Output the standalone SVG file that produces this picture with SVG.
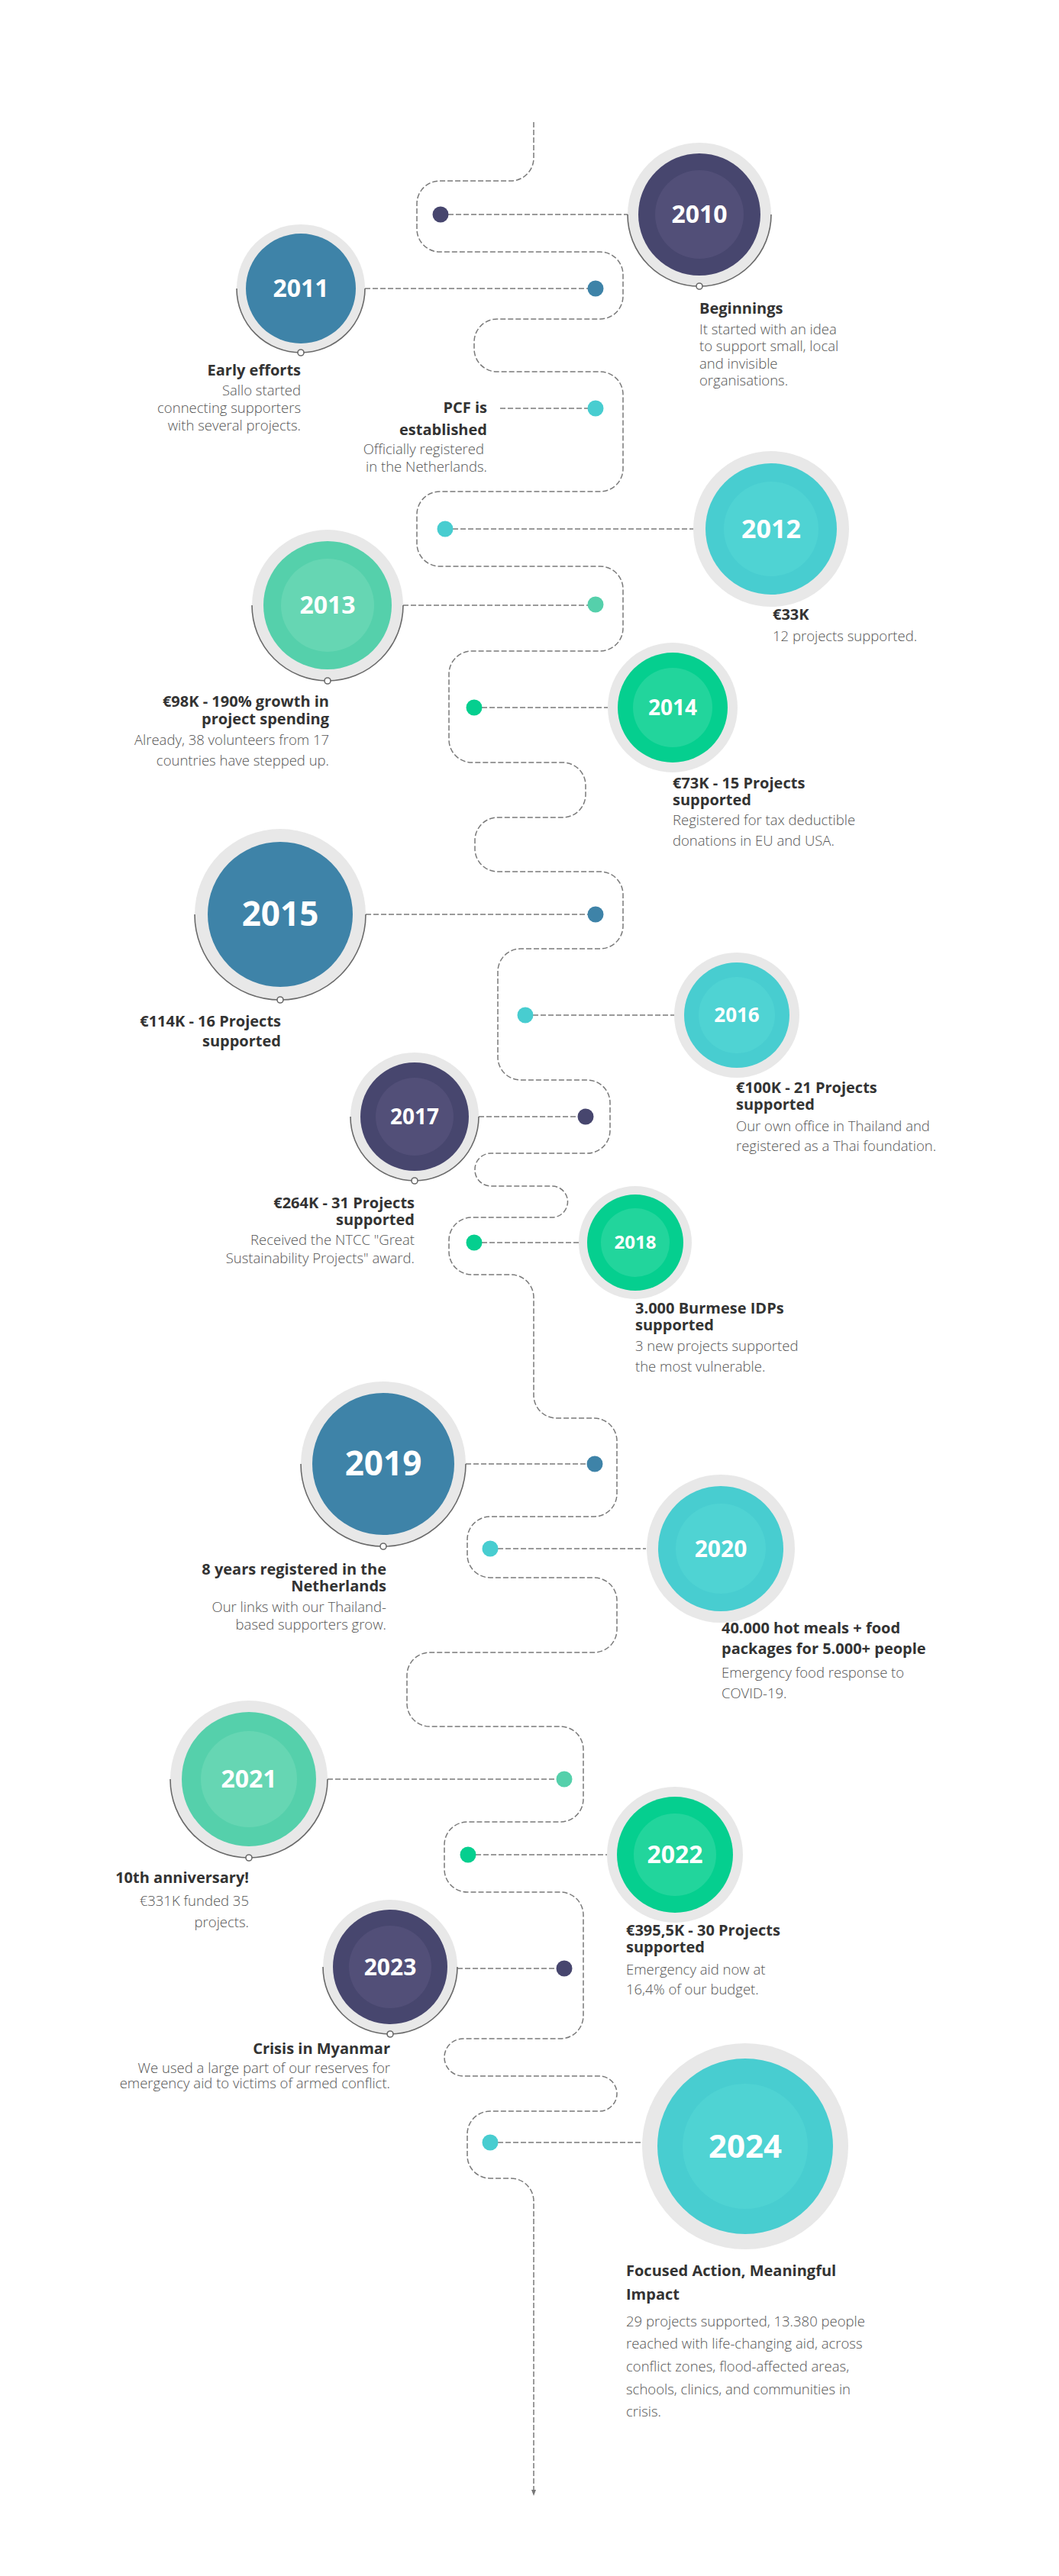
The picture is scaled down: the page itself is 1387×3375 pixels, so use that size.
<svg xmlns="http://www.w3.org/2000/svg" width="1387" height="3375" viewBox="0 0 1387 3375">
<defs>
<marker id="arr" markerWidth="8" markerHeight="8" refX="4" refY="4" orient="auto" markerUnits="userSpaceOnUse"><path d="M0,1 L8,4 L0,7 z" fill="#777"/></marker>
<style>
text{font-family:"Open Sans","Noto Sans","Liberation Sans",sans-serif}
.ring{fill:#e8e8e8}
.arc{fill:none;stroke:#6a6a6a;stroke-width:1.6}
.knob{fill:#fff;stroke:#6a6a6a;stroke-width:1.6}
.yr{fill:#fff;font-weight:700;text-anchor:middle}
.t{fill:#333;font-weight:700;font-size:20px}
.b{fill:#555;font-weight:300;font-size:18.5px}
.r{text-anchor:end}
.dash{fill:none;stroke:#7a7a7a;stroke-width:1.5;stroke-dasharray:7 3}
.navy{fill:#47466e}.navyl{fill:#524f78}
.blue{fill:#3e83a8}
.teal{fill:#48cdd0}.teall{fill:#4fd3d3}
.mint{fill:#55d0ab}.mintl{fill:#66d6b3}
.green{fill:#05cf8f}.greenl{fill:#22d59c}
</style>
</defs>
<rect width="1387" height="3375" fill="#fff"/>
<g id="connectors">
<path class="dash" marker-end="url(#arr)" d="M699,160 V207 A30,30 0 0 1 669,237 H576 A30,30 0 0 0 546,267 V300 A30,30 0 0 0 576,330 H786 A30,30 0 0 1 816,360 V388 A30,30 0 0 1 786,418 H651 A30,30 0 0 0 621,448 V457 A30,30 0 0 0 651,487 H786 A30,30 0 0 1 816,517 V614 A30,30 0 0 1 786,644 H576 A30,30 0 0 0 546,674 V712 A30,30 0 0 0 576,742 H786 A30,30 0 0 1 816,772 V823 A30,30 0 0 1 786,853 H618 A30,30 0 0 0 588,883 V969 A30,30 0 0 0 618,999 H737 A30,30 0 0 1 767,1029 V1041 A30,30 0 0 1 737,1071 H652 A30,30 0 0 0 622,1101 V1112 A30,30 0 0 0 652,1142 H786 A30,30 0 0 1 816,1172 V1213 A30,30 0 0 1 786,1243 H682 A30,30 0 0 0 652,1273 V1385 A30,30 0 0 0 682,1415 H769 A30,30 0 0 1 799,1445 V1481 A30,30 0 0 1 769,1511 H643 A21,21 0 0 0 622,1532 V1533 A21,21 0 0 0 643,1554 H723 A20.5,20.5 0 0 1 743.5,1574.5 A20.5,20.5 0 0 1 723,1595 H618 A30,30 0 0 0 588,1625 V1640 A30,30 0 0 0 618,1670 H669 A30,30 0 0 1 699,1700 V1828 A30,30 0 0 0 729,1858 H778 A30,30 0 0 1 808,1888 V1957 A30,30 0 0 1 778,1987 H642 A30,30 0 0 0 612,2017 V2037 A30,30 0 0 0 642,2067 H778 A30,30 0 0 1 808,2097 V2135 A30,30 0 0 1 778,2165 H563 A30,30 0 0 0 533,2195 V2232 A30,30 0 0 0 563,2262 H734 A30,30 0 0 1 764,2292 V2357 A30,30 0 0 1 734,2387 H612 A30,30 0 0 0 582,2417 V2449 A30,30 0 0 0 612,2479 H734 A30,30 0 0 1 764,2509 V2641 A30,30 0 0 1 734,2671 H606.5 A24.5,24.5 0 0 0 582,2695.5 A24.5,24.5 0 0 0 606.5,2720 H785 A23,23 0 0 1 808,2743 A23,23 0 0 1 785,2766 H642 A30,30 0 0 0 612,2796 V2824 A30,30 0 0 0 642,2854 H669 A30,30 0 0 1 699,2884 V3266"/>
<path class="dash" d="M577,281H822 M478,378H780 M655,535H780 M583,693H908 M528,793H780 M621,927H796 M479,1198H780 M688,1330H884 M627,1463H767 M621,1628H758 M610,1918H779 M642,2029H846 M429,2331H739 M613,2430H795 M599,2579H739 M642,2807H842"/>
</g>
<g id="n2010">
<circle class="ring" cx="916" cy="281" r="94"/><path class="arc" d="M822,281 A94,94 0 0 0 1010,281"/><circle class="knob" cx="916" cy="375" r="4"/>
<circle class="navy" cx="916" cy="281" r="80"/><circle class="navyl" cx="916" cy="281" r="58"/>
<text class="yr" x="916" y="292" font-size="32">2010</text>
<circle class="navy" cx="577" cy="281" r="10.5"/>
<text class="t" x="916" y="411">Beginnings</text>
<text class="b" x="916" y="438">It started with an idea</text><text class="b" x="916" y="460">to support small, local</text><text class="b" x="916" y="483">and invisible</text><text class="b" x="916" y="505">organisations.</text>
</g>
<g id="n2011">
<circle class="ring" cx="394" cy="378" r="84"/><path class="arc" d="M310,378 A84,84 0 0 0 478,378"/><circle class="knob" cx="394" cy="462" r="4"/>
<circle class="blue" cx="394" cy="378" r="72"/>
<text class="yr" x="394" y="389" font-size="32">2011</text>
<circle class="blue" cx="780" cy="378" r="10.5"/>
<text class="t r" x="394" y="492">Early efforts</text>
<text class="b r" x="394" y="518">Sallo started</text><text class="b r" x="394" y="541">connecting supporters</text><text class="b r" x="394" y="564">with several projects.</text>
</g>
<g id="nPCF">
<circle class="teal" cx="780" cy="535" r="10.5"/>
<text class="t r" x="638" y="541">PCF is</text><text class="t r" x="638" y="570">established</text>
<text class="b r" x="634" y="595">Officially registered</text><text class="b r" x="638" y="618">in the Netherlands.</text>
</g>
<g id="n2012">
<circle class="ring" cx="1010" cy="693" r="102"/><circle class="teal" cx="1010" cy="693" r="86"/><circle class="teall" cx="1010" cy="693" r="62"/>
<text class="yr" x="1010" y="705" font-size="34">2012</text>
<circle class="teal" cx="583" cy="693" r="10.5"/>
<text class="t" x="1012" y="812">€33K</text>
<text class="b" x="1012" y="840">12 projects supported.</text>
</g>
<g id="n2013">
<circle class="ring" cx="429" cy="793" r="99"/><path class="arc" d="M330,793 A99,99 0 0 0 528,793"/><circle class="knob" cx="429" cy="892" r="4"/>
<circle class="mint" cx="429" cy="793" r="84"/><circle class="mintl" cx="429" cy="793" r="61"/>
<text class="yr" x="429" y="804" font-size="32">2013</text>
<circle class="mint" cx="780" cy="792" r="10.5"/>
<text class="t r" x="431" y="926">€98K - 190% growth in</text><text class="t r" x="431" y="949">project spending</text>
<text class="b r" x="431" y="976">Already, 38 volunteers from 17</text><text class="b r" x="431" y="1003">countries have stepped up.</text>
</g>
<g id="n2014">
<circle class="ring" cx="881" cy="927" r="85"/><circle class="green" cx="881" cy="927" r="72"/><circle class="greenl" cx="881" cy="927" r="52"/>
<text class="yr" x="881" y="937" font-size="28">2014</text>
<circle class="green" cx="621" cy="927" r="10.5"/>
<text class="t" x="881" y="1033">€73K - 15 Projects</text><text class="t" x="881" y="1055">supported</text>
<text class="b" x="881" y="1081">Registered for tax deductible</text><text class="b" x="881" y="1108">donations in EU and USA.</text>
</g>
<g id="n2015">
<circle class="ring" cx="367" cy="1198" r="112"/><path class="arc" d="M255,1198 A112,112 0 0 0 479,1198"/><circle class="knob" cx="367" cy="1310" r="4"/>
<circle class="blue" cx="367" cy="1198" r="95"/>
<text class="yr" x="367" y="1213" font-size="44">2015</text>
<circle class="blue" cx="780" cy="1198" r="10.5"/>
<text class="t r" x="368" y="1345">€114K - 16 Projects</text><text class="t r" x="368" y="1371">supported</text>
</g>
<g id="n2016">
<circle class="ring" cx="965" cy="1330" r="82"/><circle class="teal" cx="965" cy="1330" r="69"/><circle class="teall" cx="965" cy="1330" r="50"/>
<text class="yr" x="965" y="1339" font-size="26">2016</text>
<circle class="teal" cx="688" cy="1330" r="10.5"/>
<text class="t" x="964" y="1432">€100K - 21 Projects</text><text class="t" x="964" y="1454">supported</text>
<text class="b" x="964" y="1482">Our own office in Thailand and</text><text class="b" x="964" y="1508">registered as a Thai foundation.</text>
</g>
<g id="n2017">
<circle class="ring" cx="543" cy="1463" r="84"/><path class="arc" d="M459,1463 A84,84 0 0 0 627,1463"/><circle class="knob" cx="543" cy="1547" r="4"/>
<circle class="navy" cx="543" cy="1463" r="71"/><circle class="navyl" cx="543" cy="1463" r="51"/>
<text class="yr" x="543" y="1473" font-size="28">2017</text>
<circle class="navy" cx="767" cy="1463" r="10.5"/>
<text class="t r" x="543" y="1583">€264K - 31 Projects</text><text class="t r" x="543" y="1605">supported</text>
<text class="b r" x="543" y="1631">Received the NTCC "Great</text><text class="b r" x="543" y="1655">Sustainability Projects" award.</text>
</g>
<g id="n2018">
<circle class="ring" cx="832" cy="1628" r="74"/><circle class="green" cx="832" cy="1628" r="63"/><circle class="greenl" cx="832" cy="1628" r="45"/>
<text class="yr" x="832" y="1636" font-size="24">2018</text>
<circle class="green" cx="621" cy="1628" r="10.5"/>
<text class="t" x="832" y="1721">3.000 Burmese IDPs</text><text class="t" x="832" y="1743">supported</text>
<text class="b" x="832" y="1770">3 new projects supported</text><text class="b" x="832" y="1797">the most vulnerable.</text>
</g>
<g id="n2019">
<circle class="ring" cx="502" cy="1918" r="108"/><path class="arc" d="M394,1918 A108,108 0 0 0 610,1918"/><circle class="knob" cx="502" cy="2026" r="4"/>
<circle class="blue" cx="502" cy="1918" r="93"/>
<text class="yr" x="502" y="1933" font-size="44">2019</text>
<circle class="blue" cx="779" cy="1918" r="10.5"/>
<text class="t r" x="506" y="2063">8 years registered in the</text><text class="t r" x="506" y="2085">Netherlands</text>
<text class="b r" x="506" y="2112">Our links with our Thailand-</text><text class="b r" x="506" y="2135">based supporters grow.</text>
</g>
<g id="n2020">
<circle class="ring" cx="944" cy="2029" r="97"/><circle class="teal" cx="944" cy="2029" r="82"/><circle class="teall" cx="944" cy="2029" r="59"/>
<text class="yr" x="944" y="2040" font-size="30">2020</text>
<circle class="teal" cx="642" cy="2029" r="10.5"/>
<text class="t" x="945" y="2140">40.000 hot meals + food</text><text class="t" x="945" y="2167">packages for 5.000+ people</text>
<text class="b" x="945" y="2198">Emergency food response to</text><text class="b" x="945" y="2225">COVID-19.</text>
</g>
<g id="n2021">
<circle class="ring" cx="326" cy="2331" r="103"/><path class="arc" d="M223,2331 A103,103 0 0 0 429,2331"/><circle class="knob" cx="326" cy="2434" r="4"/>
<circle class="mint" cx="326" cy="2331" r="88"/><circle class="mintl" cx="326" cy="2331" r="63"/>
<text class="yr" x="326" y="2342" font-size="32">2021</text>
<circle class="mint" cx="739" cy="2331" r="10.5"/>
<text class="t r" x="326" y="2467">10th anniversary!</text>
<text class="b r" x="326" y="2497">€331K funded 35</text><text class="b r" x="326" y="2525">projects.</text>
</g>
<g id="n2022">
<circle class="ring" cx="884" cy="2430" r="89"/><circle class="green" cx="884" cy="2430" r="76"/><circle class="greenl" cx="884" cy="2430" r="54"/>
<text class="yr" x="884" y="2441" font-size="32">2022</text>
<circle class="green" cx="613" cy="2430" r="10.5"/>
<text class="t" x="820" y="2536">€395,5K - 30 Projects</text><text class="t" x="820" y="2558">supported</text>
<text class="b" x="820" y="2587">Emergency aid now at</text><text class="b" x="820" y="2613">16,4% of our budget.</text>
</g>
<g id="n2023">
<circle class="ring" cx="511" cy="2577" r="88"/><path class="arc" d="M423,2577 A88,88 0 0 0 599,2577"/><circle class="knob" cx="511" cy="2665" r="4"/>
<circle class="navy" cx="511" cy="2577" r="75"/><circle class="navyl" cx="511" cy="2577" r="54"/>
<text class="yr" x="511" y="2588" font-size="30">2023</text>
<circle class="navy" cx="739" cy="2579" r="10.5"/>
<text class="t r" x="511" y="2691">Crisis in Myanmar</text>
<text class="b r" x="511" y="2716" font-size="14">We used a large part of our reserves for</text><text class="b r" x="511" y="2736" font-size="14">emergency aid to victims of armed conflict.</text>
</g>
<g id="n2024">
<circle class="ring" cx="976" cy="2812" r="135"/><circle class="teal" cx="976" cy="2812" r="115"/><circle class="teall" cx="976" cy="2812" r="82"/>
<text class="yr" x="976" y="2827" font-size="42">2024</text>
<circle class="teal" cx="642" cy="2807" r="10.5"/>
<text class="t" x="820" y="2982" font-size="22">Focused Action, Meaningful</text><text class="t" x="820" y="3013" font-size="22">Impact</text>
<text class="b" x="820" y="3048">29 projects supported, 13.380 people</text><text class="b" x="820" y="3077">reached with life-changing aid, across</text><text class="b" x="820" y="3107">conflict zones, flood-affected areas,</text><text class="b" x="820" y="3137">schools, clinics, and communities in</text><text class="b" x="820" y="3166">crisis.</text>
</g>
</svg>
